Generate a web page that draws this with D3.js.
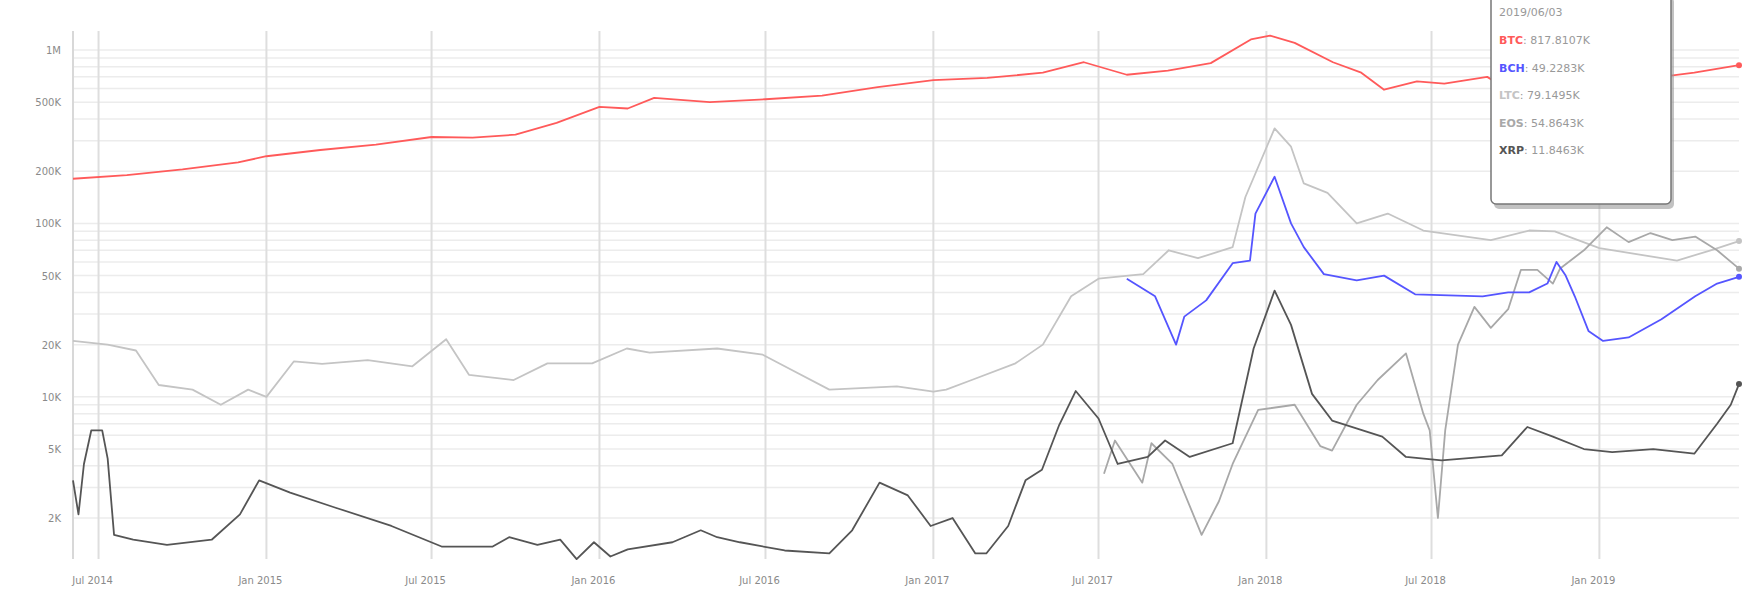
<!DOCTYPE html>
<html><head><meta charset="utf-8">
<script src="https://cdn.jsdelivr.net/npm/d3@7"></script>
<style>body{margin:0;background:#fff;font-family:"DejaVu Sans",sans-serif}</style>
</head><body><svg id="c" width="1754" height="600"></svg>
<script>
// values in K
const btc = [["2014-06-03",181],["2014-08-01",190],["2014-10-01",205],["2014-12-01",225],["2015-01-01",244],["2015-03-01",265],["2015-05-01",285],["2015-07-01",315],["2015-08-15",312],["2015-10-01",325],["2015-11-15",380],["2016-01-01",470],["2016-02-01",460],["2016-03-01",530],["2016-05-01",500],["2016-07-01",520],["2016-09-01",545],["2016-11-01",610],["2017-01-01",670],["2017-03-01",690],["2017-05-01",740],["2017-06-15",850],["2017-08-01",720],["2017-09-15",760],["2017-11-01",840],["2017-12-15",1150],["2018-01-05",1210],["2018-02-01",1100],["2018-03-15",850],["2018-04-15",740],["2018-05-10",590],["2018-06-15",660],["2018-07-15",640],["2018-08-31",700],["2018-09-30",560],["2018-11-01",610],["2018-12-15",600],["2019-01-15",630],["2019-03-01",690],["2019-04-15",740],["2019-06-03",817.8107]];
const bch = [["2017-08-01",48],["2017-09-01",38],["2017-09-24",20],["2017-10-03",29],["2017-10-27",36],["2017-11-25",59],["2017-12-14",61],["2017-12-20",114],["2018-01-10",186],["2018-01-28",100],["2018-02-11",73],["2018-03-05",51],["2018-04-10",47],["2018-05-10",50],["2018-06-13",39],["2018-08-26",38],["2018-09-23",40],["2018-10-16",40],["2018-11-05",45],["2018-11-15",60],["2018-11-25",50],["2018-12-05",38],["2018-12-20",24],["2019-01-05",21],["2019-02-02",22],["2019-03-10",28],["2019-04-16",38],["2019-05-10",45],["2019-06-03",49.2283]];
const ltc = [["2014-06-03",21],["2014-07-11",20],["2014-08-11",18.5],["2014-09-05",11.7],["2014-10-12",11],["2014-11-12",9],["2014-12-12",11],["2015-01-01",10],["2015-01-31",16],["2015-03-03",15.5],["2015-04-22",16.3],["2015-06-10",15],["2015-07-17",21.5],["2015-08-11",13.4],["2015-09-29",12.5],["2015-11-05",15.6],["2015-12-24",15.6],["2016-01-31",19],["2016-02-25",18],["2016-05-09",19],["2016-06-28",17.5],["2016-07-22",15],["2016-09-09",11],["2016-11-22",11.5],["2017-01-01",10.7],["2017-01-15",11],["2017-02-12",12.5],["2017-04-01",15.6],["2017-05-01",20],["2017-06-01",38],["2017-07-01",48],["2017-08-19",51],["2017-09-16",70],["2017-10-18",63],["2017-11-25",73],["2017-12-09",142],["2018-01-10",353],["2018-01-28",277],["2018-02-11",170],["2018-03-09",150],["2018-04-10",100],["2018-05-14",114],["2018-06-22",91],["2018-09-04",80],["2018-10-16",91],["2018-11-13",90],["2019-01-01",72],["2019-03-27",61],["2019-05-03",70],["2019-06-03",79.1495]];
const eos = [["2017-07-07",3.6],["2017-07-19",5.6],["2017-08-18",3.2],["2017-08-28",5.4],["2017-09-20",4.1],["2017-10-22",1.6],["2017-11-10",2.5],["2017-11-25",4.1],["2017-12-23",8.4],["2018-02-01",9],["2018-03-01",5.2],["2018-03-14",4.9],["2018-04-10",9],["2018-05-03",12.5],["2018-06-03",17.8],["2018-06-22",8],["2018-06-29",6.4],["2018-07-08",2.0],["2018-07-16",6.4],["2018-07-30",20],["2018-08-17",33],["2018-09-04",25],["2018-09-23",32],["2018-10-07",54],["2018-10-25",54],["2018-11-11",45],["2018-11-19",55],["2018-12-15",70],["2019-01-09",95],["2019-02-02",78],["2019-02-26",88],["2019-03-22",80],["2019-04-16",84],["2019-05-10",70],["2019-06-03",54.8643]];
const xrp = [["2014-06-03",3.3],["2014-06-09",2.1],["2014-06-15",4.1],["2014-06-23",6.4],["2014-07-05",6.4],["2014-07-11",4.4],["2014-07-18",1.6],["2014-08-08",1.5],["2014-09-14",1.4],["2014-11-02",1.5],["2014-12-03",2.1],["2014-12-24",3.3],["2015-01-27",2.8],["2015-03-17",2.3],["2015-05-18",1.8],["2015-07-12",1.37],["2015-09-06",1.37],["2015-09-24",1.55],["2015-10-25",1.4],["2015-11-19",1.5],["2015-12-07",1.16],["2015-12-26",1.45],["2016-01-13",1.2],["2016-02-01",1.32],["2016-03-21",1.45],["2016-04-21",1.7],["2016-05-09",1.55],["2016-06-03",1.45],["2016-07-22",1.3],["2016-09-09",1.25],["2016-10-04",1.7],["2016-11-03",3.2],["2016-12-04",2.7],["2016-12-29",1.8],["2017-01-22",2.0],["2017-02-16",1.25],["2017-02-28",1.25],["2017-03-24",1.8],["2017-04-12",3.3],["2017-04-30",3.8],["2017-05-19",6.9],["2017-06-06",10.8],["2017-07-01",7.5],["2017-07-22",4.1],["2017-08-24",4.5],["2017-09-12",5.6],["2017-10-09",4.5],["2017-11-25",5.4],["2017-12-18",19],["2018-01-10",41],["2018-01-28",26],["2018-02-20",10.4],["2018-03-14",7.3],["2018-05-08",5.9],["2018-06-03",4.5],["2018-07-12",4.3],["2018-09-16",4.6],["2018-10-14",6.7],["2018-11-11",5.9],["2018-12-15",5],["2019-01-15",4.8],["2019-03-01",5.0],["2019-04-15",4.7],["2019-05-10",7],["2019-05-25",9],["2019-06-03",11.8463]];
const seriesNames = ["BTC","BCH","LTC","EOS","XRP"];
const seriesColors = ["#ff5a5a","#5555ff","#c4c4c4","#a8a8a8","#555555"];
const tooltipDate = "2019/06/03";
const tooltipValues = ["817.8107K","49.2283K","79.1495K","54.8643K","11.8463K"];
const yTickValues = [1e6,5e5,2e5,1e5,5e4,2e4,1e4,5e3,2e3];
const yTickLabels = ["1M","500K","200K","100K","50K","20K","10K","5K","2K"];
const xTickDates = ["2014-07-01","2015-01-01","2015-07-01","2016-01-01","2016-07-01","2017-01-01","2017-07-01","2018-01-01","2018-07-01","2019-01-01"];
const xTickLabels = ["Jul 2014","Jan 2015","Jul 2015","Jan 2016","Jul 2016","Jan 2017","Jul 2017","Jan 2018","Jul 2018","Jan 2019"];

const P = d3.timeParse("%Y-%m-%d");
const svg = d3.select("#c");
const L=73, R=1739, T=31, B=559;
const x = d3.scaleTime().domain([P("2014-06-03"),P("2019-06-03")]).range([L,R]);
const y = d3.scaleLog().domain([1161,1.287e6]).range([B,T]);

// horizontal minor grid
const minor=[];
for(let e=3;e<=6;e++) for(let m=1;m<10;m++){const v=m*Math.pow(10,e); if(v>=1161&&v<=1.287e6) minor.push(v);}
svg.append("g").selectAll("line").data(minor).join("line")
 .attr("x1",L).attr("x2",R).attr("y1",d=>y(d)).attr("y2",d=>y(d))
 .attr("stroke","#ececec").attr("stroke-width",1.5);
// vertical grid
svg.append("g").selectAll("line").data(xTickDates).join("line")
 .attr("x1",d=>x(P(d))).attr("x2",d=>x(P(d))).attr("y1",T).attr("y2",B)
 .attr("stroke","#dedede").attr("stroke-width",2);
svg.append("line").attr("x1",L).attr("x2",L).attr("y1",T).attr("y2",B).attr("stroke","#d8d8d8").attr("stroke-width",2);

svg.append("g").selectAll("text").data(yTickValues).join("text")
 .attr("x",L-12).attr("y",d=>y(d)+4).attr("text-anchor","end")
 .attr("font-size",10).attr("fill","#8a8a8a").text((d,i)=>yTickLabels[i]);
svg.append("g").selectAll("text").data(xTickDates).join("text")
 .attr("x",d=>x(P(d))-6).attr("y",584).attr("text-anchor","middle")
 .attr("font-size",10).attr("fill","#8a8a8a").text((d,i)=>xTickLabels[i]);

const line = d3.line().x(d=>x(P(d[0]))).y(d=>y(d[1]*1000));
const all=[btc,bch,ltc,eos,xrp];
const order=[2,3,4,1,0];
order.forEach(i=>{
 svg.append("path").datum(all[i]).attr("d",line).attr("fill","none")
  .attr("stroke",seriesColors[i]).attr("stroke-width",1.8).attr("stroke-linejoin","round");
});
order.forEach(i=>{
 const d=all[i][all[i].length-1];
 svg.append("circle").attr("cx",x(P(d[0]))).attr("cy",y(d[1]*1000)).attr("r",3).attr("fill",seriesColors[i]);
});

// tooltip
const g=svg.append("g").attr("transform","translate(1491,-6)");
g.append("rect").attr("x",3).attr("y",3).attr("width",180).attr("height",212).attr("rx",5).attr("fill","#999").attr("opacity",0.6);
g.append("rect").attr("width",180).attr("height",210).attr("rx",5).attr("fill","#fff").attr("stroke","#777").attr("stroke-width",1.5);
g.append("text").attr("x",8).attr("y",22).attr("font-size",11).attr("fill","#999").text(tooltipDate);
seriesNames.forEach((n,i)=>{
 const t=g.append("text").attr("x",8).attr("y",50+i*27.5).attr("font-size",11);
 t.append("tspan").attr("font-weight","bold").attr("fill",seriesColors[i]).text(n);
 t.append("tspan").attr("fill","#999").text(": "+tooltipValues[i]);
});
</script></body></html>
